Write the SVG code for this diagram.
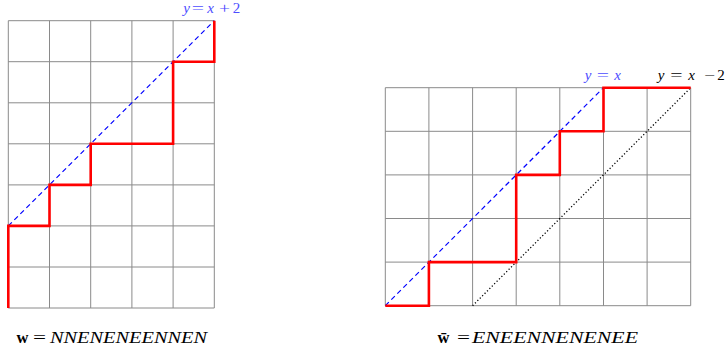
<svg xmlns="http://www.w3.org/2000/svg" width="725" height="356" viewBox="0 0 725 356">
<style>
.grid{stroke:#8a8a8a;stroke-width:1;fill:none}
.path{stroke:#ff0000;stroke-width:2.6;fill:none;stroke-linejoin:miter}
.diag{stroke:#0000ff;stroke-width:1.2;stroke-dasharray:5 3.5;fill:none}
.dot{stroke:#000;stroke-width:1.3;stroke-dasharray:1.2 2.2;fill:none}
text{font-family:"Liberation Serif","DejaVu Serif",serif;font-size:15px;text-anchor:middle}
.big{font-size:16.5px}
.st{text-anchor:start}
.i{font-style:italic}
.b{font-weight:bold}
.blue{fill:#4d4dff}
</style>
<g id="left-grid">
<path class="grid" d="M8.3,20.7V308M49.5,20.7V308M90.7,20.7V308M131.9,20.7V308M173.1,20.7V308M214.3,20.7V308M8.3,20.7H214.3M8.3,61.7H214.3M8.3,102.8H214.3M8.3,143.8H214.3M8.3,184.9H214.3M8.3,225.9H214.3M8.3,267H214.3M8.3,308H214.3"/>
</g>
<g id="right-grid">
<path class="grid" d="M385.3,87.7V305.7M428.9,87.7V305.7M472.6,87.7V305.7M516.2,87.7V305.7M559.8,87.7V305.7M603.5,87.7V305.7M647.1,87.7V305.7M690.7,87.7V305.7M385.3,87.7H690.7M385.3,131.3H690.7M385.3,174.9H690.7M385.3,218.5H690.7M385.3,262.1H690.7M385.3,305.7H690.7"/>
</g>
<g id="connectors">
<line class="diag" x1="8.3" y1="225.9" x2="214.3" y2="20.7"/>
<path class="path" d="M8.3,308V225.9H49.5V184.9H90.7V143.8H173.1V61.7H214.3V20.7"/>
<line class="diag" x1="385.3" y1="305.7" x2="603.5" y2="87.7"/>
<line class="dot" x1="472.6" y1="305.7" x2="690.7" y2="87.7"/>
<path class="path" d="M385.3,305.7H428.9V262.1H516.2V174.9H559.8V131.3H603.5V87.7H690.7"/>
</g>
<g id="labels">
<g class="blue">
<text class="i" x="186.5" y="12.5">y</text><text transform="translate(198,12.5) scale(1.45,1)">=</text><text class="i" x="210.5" y="12.5">x</text><text transform="translate(224.5,12.5) scale(1.3,1)">+</text><text x="236.5" y="12.5">2</text>
</g>
<g class="blue">
<text class="i" x="588" y="79.5">y</text><text transform="translate(603,79.5) scale(1.45,1)">=</text><text class="i" x="617.5" y="79.5">x</text>
</g>
<text class="i" x="661" y="79.5">y</text><text transform="translate(676.5,79.5) scale(1.45,1)">=</text><text class="i" x="691.5" y="79.5">x</text><text transform="translate(709.5,79.5) scale(1.3,1)">−</text><text x="721" y="79.5">2</text>
<text class="b big" x="22.5" y="343">w</text><text class="big" transform="translate(39.5,343) scale(1.4,1)">=</text>
<text class="i big st" x="50" y="343" textLength="157" lengthAdjust="spacingAndGlyphs">NNENENEENNEN</text>
<text class="b big" x="443.5" y="343">w̄</text><text class="big" transform="translate(463.5,343) scale(1.4,1)">=</text>
<text class="i big st" x="472" y="343" textLength="166" lengthAdjust="spacingAndGlyphs">ENEENNENENEE</text>
</g>
</svg>
